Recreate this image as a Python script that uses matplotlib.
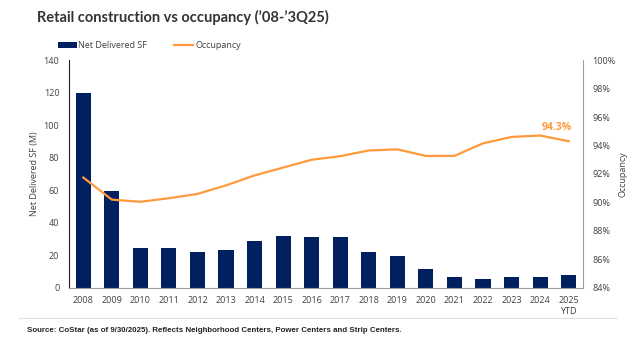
import matplotlib
matplotlib.use("Agg")
import matplotlib.pyplot as plt
from matplotlib.ticker import FuncFormatter

plt.rcParams['font.family'] = ['Open Sans', 'DejaVu Sans']

years = ["2008", "2009", "2010", "2011", "2012", "2013", "2014", "2015", "2016",
         "2017", "2018", "2019", "2020", "2021", "2022", "2023", "2024", "2025\nYTD"]
delivered_sf = [120, 59.5, 24.4, 24.4, 22.1, 23.3, 28.6, 31.7, 31.6,
                31.1, 22.3, 19.8, 11.5, 6.9, 5.3, 6.9, 6.6, 7.8]
occupancy = [91.75, 90.2, 90.05, 90.3, 90.6, 91.2, 91.9, 92.45, 93.0,
             93.25, 93.65, 93.73, 93.27, 93.27, 94.15, 94.6, 94.7, 94.3]

navy = "#002060"
orange = "#FF9A3C"
text_col = "#404040"

fig = plt.figure(figsize=(6.36, 3.4), dpi=100)
ax = fig.add_axes([0.1085, 0.153, 0.808, 0.6705])
ax2 = ax.twinx()

x = range(len(years))
ax.bar(x, delivered_sf, width=0.53, color=navy, label="Net Delivered SF", zorder=2)
ax2.plot(x, occupancy, color=orange, lw=1.6, label="Occupancy", zorder=3)
ax2.annotate("94.3%", (x[-1], occupancy[-1]), xytext=(2, 6), textcoords="offset points",
             ha="right", va="bottom", color=orange, fontsize=7.5, fontweight="bold")

ax.set_xlim(-0.5, len(years) - 0.5)
ax.set_ylim(0, 140)
ax.set_yticks(range(0, 141, 20))
ax2.set_ylim(84, 100)
ax2.set_yticks(range(84, 101, 2))
ax2.yaxis.set_major_formatter(FuncFormatter(lambda v, p: f"{v:.0f}%"))
ax.set_xticks(list(x))
ax.set_xticklabels(years)

for a in (ax, ax2):
    a.tick_params(length=0, labelsize=6.5, colors=text_col)
    a.spines["top"].set_visible(False)
ax.tick_params(axis="y", pad=7)
ax.tick_params(axis="x", pad=6)
ax2.tick_params(axis="y", pad=7)
ax.spines["left"].set_color("#202020")
ax.spines["right"].set_visible(False)
ax2.spines["left"].set_visible(False)
ax2.spines["right"].set_color("#A0A0A0")
ax2.spines["bottom"].set_visible(False)
ax.spines["bottom"].set_color("#A0A0A0")

ax.set_ylabel("Net Delivered SF (M)", fontsize=6.5, color=text_col, labelpad=3)
ax2.set_ylabel("Occupancy", fontsize=6.5, color=text_col, labelpad=2)

h1, l1 = ax.get_legend_handles_labels()
h2, l2 = ax2.get_legend_handles_labels()
fig.legend(h1 + h2, l1 + l2, loc="center left", bbox_to_anchor=(0.078, 0.865), ncol=2,
           frameon=False, fontsize=6.5, handlelength=2.1, handleheight=0.6,
           columnspacing=3.0, handletextpad=0.2, labelcolor=text_col)

fig.text(0.058, 0.948, "Retail construction vs occupancy (\u201908-\u20193Q25)",
         fontsize=10.5, fontweight="bold", color="#333333", va="center",
         family=["Lato", "DejaVu Sans"])

fig.add_artist(plt.Line2D([0.03, 0.97], [0.065, 0.065], color="#E0E0E0", lw=0.8))
fig.text(0.042, 0.027, "Source: CoStar (as of 9/30/2025). Reflects Neighborhood Centers, Power Centers and Strip Centers.",
         fontsize=5.7, fontweight="bold", color="#222222", va="center",
         family=["Liberation Sans Narrow", "Liberation Sans", "DejaVu Sans"])

fig.savefig("out.png", dpi=100)
